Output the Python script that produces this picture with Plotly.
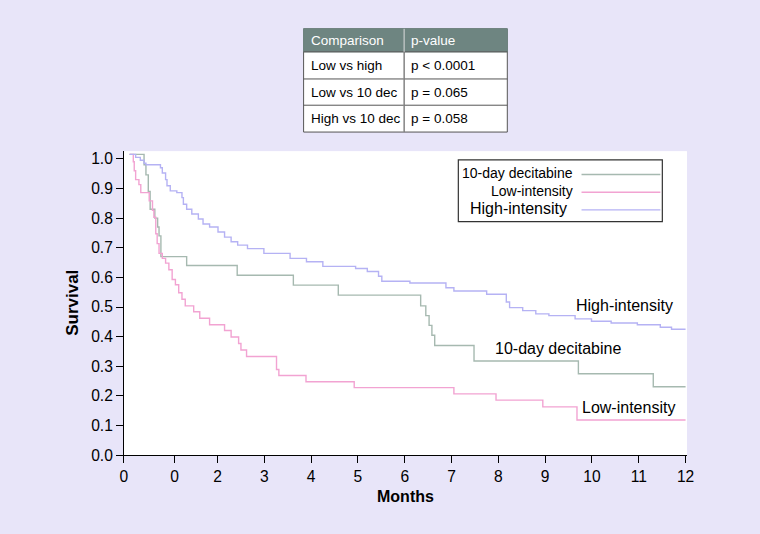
import plotly.graph_objects as go

# ---------------- data ----------------
dec_t = [0.12, 0.43, 0.47, 0.52, 0.56, 0.66, 0.72, 0.75, 0.79, 1.34, 2.42, 3.62, 4.58,
         6.34, 6.45, 6.52, 6.58, 6.64, 7.48, 9.71, 11.31, 12.0]
dec_s = [1.015, 0.98, 0.946, 0.89, 0.83, 0.80, 0.77, 0.74, 0.67, 0.64, 0.607, 0.574, 0.54,
         0.504, 0.471, 0.438, 0.405, 0.37, 0.318, 0.275, 0.231, 0.231]

low_t = [0.12, 0.20, 0.22, 0.25, 0.32, 0.36, 0.54, 0.61, 0.64, 0.68, 0.71, 0.75, 0.82, 0.89,
         0.96, 1.03, 1.10, 1.17, 1.24, 1.31, 1.49, 1.62, 1.83, 2.15, 2.29, 2.45, 2.50, 2.62,
         3.26, 3.31, 3.89, 4.92, 7.05, 7.95, 8.95, 9.68, 12.0]
low_s = [1.015, 0.99, 0.96, 0.93, 0.913, 0.886, 0.858, 0.826, 0.803, 0.747, 0.714, 0.681,
         0.664, 0.648, 0.626, 0.593, 0.575, 0.548, 0.526, 0.504, 0.484, 0.462, 0.44, 0.421,
         0.399, 0.377, 0.355, 0.333, 0.289, 0.269, 0.248, 0.228, 0.207, 0.186, 0.163, 0.119, 0.119]

high_t = [0.12, 0.25, 0.35, 0.43, 0.47, 0.78, 0.82, 0.89, 0.92, 0.99, 1.13, 1.24, 1.27, 1.34,
          1.45, 1.59, 1.69, 1.83, 2.01, 2.15, 2.29, 2.43, 2.64, 2.99, 3.55, 3.90, 4.25, 4.95,
          5.20, 5.44, 5.51, 6.11, 6.88, 7.05, 7.75, 8.17, 8.24, 8.52, 8.80, 9.08, 9.64, 9.99,
          10.41, 10.97, 11.46, 11.70, 12.0]
high_s = [1.015, 1.005, 0.995, 0.985, 0.98, 0.97, 0.952, 0.93, 0.909, 0.892, 0.886, 0.869,
          0.847, 0.83, 0.814, 0.797, 0.78, 0.77, 0.753, 0.736, 0.72, 0.709, 0.697, 0.681,
          0.664, 0.653, 0.637, 0.63, 0.62, 0.604, 0.587, 0.581, 0.565, 0.554, 0.543, 0.517,
          0.498, 0.488, 0.477, 0.471, 0.46, 0.452, 0.446, 0.44, 0.432, 0.425, 0.425]

x_tickvals = [0, 1.08, 2, 3, 4, 5, 6, 7, 8, 9, 10, 11, 12]
x_ticktext = ["0", "0", "2", "3", "4", "5", "6", "7", "8", "9", "10", "11", "12"]
y_tickvals = [0.0, 0.1, 0.2, 0.3, 0.4, 0.5, 0.6, 0.7, 0.8, 0.9, 1.0]

table_header = ["Comparison", "p-value"]
table_comparison = ["Low vs high", "Low vs 10 dec", "High vs 10 dec"]
table_pvalue = ["p < 0.0001", "p = 0.065", "p = 0.058"]

series_names = ["10-day decitabine", "Low-intensity", "High-intensity"]
colors = ["#a6b9b0", "#f2a3d2", "#b5b2f4"]

# ---------------- figure ----------------
W, H = 760, 534
FONT = "Liberation Sans, Arial, sans-serif"
BG = "#e8e5f9"


def px(x):
    return x / W


def py(y):
    return 1 - y / H


fig = go.Figure()
for t, s, name, c in zip([dec_t, low_t, high_t], [dec_s, low_s, high_s], series_names, colors):
    fig.add_trace(go.Scatter(x=t, y=s, mode="lines", line=dict(shape="hv", color=c, width=1.4),
                             name=name, showlegend=False, hoverinfo="skip"))

axis_common = dict(showgrid=False, zeroline=False, showline=True, linecolor="black", linewidth=1,
                   ticks="outside", ticklen=7, tickcolor="black", tickwidth=1,
                   tickfont=dict(family=FONT, size=15.6, color="black"))

fig.update_layout(
    width=W, height=H,
    margin=dict(l=0, r=0, t=0, b=0),
    paper_bgcolor=BG, plot_bgcolor="white",
    font=dict(family=FONT, color="black"),
    xaxis=dict(domain=[px(121.7), px(693)], range=[0, 12.03], tickvals=x_tickvals,
               ticktext=x_ticktext, **axis_common),
    yaxis=dict(domain=[py(462), py(152.7)], range=[0, 1.026], tickvals=y_tickvals,
               tickformat=".1f", **axis_common),
    showlegend=False,
)

X0, XS = 121.7, 47.5      # pixel of month 0, pixels per month
Y0, YS = 462.0, 301.3     # pixel of survival 0, pixels per unit


def dx(p):
    return (p - X0) / XS


def dy(p):
    return (Y0 - p) / YS


annotations = [
    dict(text="<b>Survival</b>", x=px(70), y=py(307), xref="paper", yref="paper",
         xanchor="center", yanchor="middle", textangle=-90, showarrow=False, font=dict(size=17)),
    dict(text="<b>Months</b>", x=px(407), y=py(504), xref="paper", yref="paper",
         xanchor="center", yanchor="middle", showarrow=False, font=dict(size=16)),
    dict(text="High-intensity", x=dx(629.5), y=dy(310), xref="x", yref="y", showarrow=False,
         xanchor="center", yanchor="middle", font=dict(size=16)),
    dict(text="10-day decitabine", x=dx(562), y=dy(354), xref="x", yref="y", showarrow=False,
         xanchor="center", yanchor="middle", font=dict(size=16)),
    dict(text="Low-intensity", x=dx(633.5), y=dy(414), xref="x", yref="y", showarrow=False,
         xanchor="center", yanchor="middle", font=dict(size=16)),
]
shapes = []

# ---- p-value table (shapes + text) ----
TL, TR, TM = 304, 510.7, 406
row_edges = [28.3, 51.7, 79.3, 106.0, 133.3]
GRID = "#555555"
shapes.append(dict(type="rect", xref="paper", yref="paper", x0=px(TL), x1=px(TR),
                   y0=py(row_edges[-1]), y1=py(row_edges[0]), fillcolor="white",
                   line=dict(color=GRID, width=1), layer="above"))
shapes.append(dict(type="rect", xref="paper", yref="paper", x0=px(TL), x1=px(TR),
                   y0=py(row_edges[1]), y1=py(row_edges[0]), fillcolor="#6e8581",
                   line=dict(color="#6e8581", width=1), layer="above"))
for ye in row_edges[1:-1]:
    shapes.append(dict(type="line", xref="paper", yref="paper", x0=px(TL), x1=px(TR),
                       y0=py(ye), y1=py(ye), line=dict(color=GRID, width=1), layer="above"))
shapes.append(dict(type="line", xref="paper", yref="paper", x0=px(TM), x1=px(TM),
                   y0=py(row_edges[-1]), y1=py(row_edges[0]),
                   line=dict(color="#dddddd", width=1), layer="above"))
shapes.append(dict(type="line", xref="paper", yref="paper", x0=px(TM), x1=px(TM),
                   y0=py(row_edges[-1]), y1=py(row_edges[1]),
                   line=dict(color=GRID, width=1), layer="above"))

rows = [table_header] + [[a, b] for a, b in zip(table_comparison, table_pvalue)]
for i, (a, b) in enumerate(rows):
    yc = (row_edges[i] + row_edges[i + 1]) / 2
    col = "white" if i == 0 else "black"
    for txt, xl in ((a, TL + 5), (b, TM + 5)):
        annotations.append(dict(text=txt, x=px(xl), y=py(yc), xref="paper", yref="paper",
                                xanchor="left", yanchor="middle", showarrow=False,
                                font=dict(size=13.5, color=col)))

# ---- custom legend ----
shapes.append(dict(type="rect", xref="paper", yref="paper", x0=px(461), x1=px(668),
                   y0=py(224.5), y1=py(161.7), line=dict(color="#333333", width=1.2),
                   fillcolor="white", layer="above"))
leg_rows = [(176.5, 579, 14), (194.5, 579, 14), (212.5, 573.5, 16)]
for (yy, xr, fs), name, c in zip(leg_rows, series_names, colors):
    shapes.append(dict(type="line", xref="paper", yref="paper", x0=px(586), x1=px(666),
                       y0=py(yy), y1=py(yy), line=dict(color=c, width=1.4), layer="above"))
    annotations.append(dict(text=name, x=px(xr), y=py(yy - 1.5), xref="paper", yref="paper",
                            xanchor="right", yanchor="middle", showarrow=False,
                            font=dict(size=fs)))

fig.update_layout(annotations=annotations, shapes=shapes)
fig.write_html(
    "out.html",
    post_script="document.body.style.margin='0px';document.body.style.overflow='hidden';"
                "document.body.style.background='" + BG + "';",
    config={"displayModeBar": False},
)
